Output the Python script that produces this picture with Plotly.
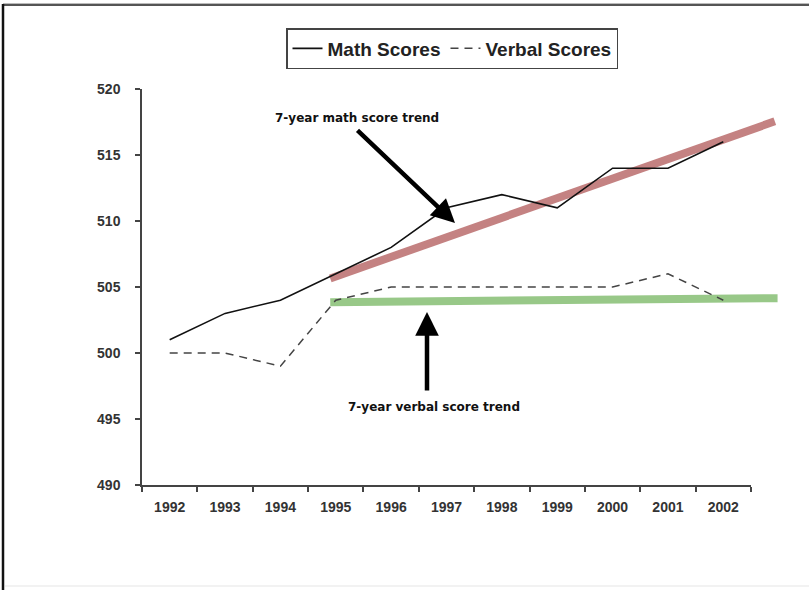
import plotly.graph_objects as go

years = ["1992", "1993", "1994", "1995", "1996", "1997", "1998", "1999", "2000", "2001", "2002"]
math_scores = [501, 503, 504, 506, 508, 511, 512, 511, 514, 514, 516]
verbal_scores = [500, 500, 499, 504, 505, 505, 505, 505, 505, 506, 504]

# trend lines: positions in category index units (0 = 1992)
math_trend_x = [2.9, 10.93]
math_trend_y = [505.65, 517.55]
verbal_trend_x = [2.9, 10.98]
verbal_trend_y = [503.85, 504.15]

y_range = [490, 520]

W, H = 809, 590
ML, MR, MT, MB = 142, 20, 89, 105
plot_w = W - ML - MR
main_frac = 609 / plot_w
ext_max = -0.5 + len(years) / main_frac

fig = go.Figure()

# trend lines (drawn on extended numeric axis, underneath)
fig.add_trace(go.Scatter(x=math_trend_x, y=math_trend_y, mode="lines",
                         line=dict(color="#c48282", width=8), showlegend=False,
                         hoverinfo="skip", xaxis="x", yaxis="y"))
fig.add_trace(go.Scatter(x=verbal_trend_x, y=verbal_trend_y, mode="lines",
                         line=dict(color="#98c888", width=8), showlegend=False,
                         hoverinfo="skip", xaxis="x", yaxis="y"))

# data series on category axis
fig.add_trace(go.Scatter(x=years, y=math_scores, mode="lines", name="Math Scores",
                         line=dict(color="#111111", width=1.6), xaxis="x2", yaxis="y2"))
fig.add_trace(go.Scatter(x=years, y=verbal_scores, mode="lines", name="Verbal Scores",
                         line=dict(color="#444444", width=1.5, dash="8px,6px"),
                         xaxis="x2", yaxis="y2"))

tick_font = dict(family="Liberation Sans, Arial", size=14, color="#333333", weight="bold")

fig.update_layout(
    width=W, height=H,
    margin=dict(l=ML, r=MR, t=MT, b=MB),
    paper_bgcolor="white", plot_bgcolor="rgba(0,0,0,0)",
    xaxis=dict(domain=[0, 1], range=[-0.5, ext_max], visible=False, fixedrange=True),
    yaxis=dict(domain=[0, 1], range=y_range, visible=False, anchor="x"),
    xaxis2=dict(domain=[0, main_frac], type="category", categoryarray=years,
                range=[-0.5, 10.5], anchor="y2", tickson="boundaries",
                ticks="outside", ticklen=5, tickcolor="#444444", tickwidth=1.5,
                showline=True, linecolor="#444444", linewidth=1.5,
                showgrid=False, zeroline=False, tickfont=tick_font,
                ticklabelstandoff=8),
    yaxis2=dict(domain=[0, 1], range=y_range, anchor="x2", dtick=5,
                ticks="outside", ticklen=5, tickcolor="#444444", tickwidth=1.5,
                showline=True, linecolor="#444444", linewidth=1.5,
                showgrid=False, zeroline=False, tickfont=tick_font,
                ticklabelstandoff=12),
    legend=dict(orientation="h", x=(452 - ML) / plot_w, xanchor="center",
                y=(H - MB - 28) / (H - MT - MB), yanchor="top",
                bordercolor="#444444", borderwidth=1.5, bgcolor="white",
                font=dict(family="Liberation Sans, Arial", size=19, color="#222222", weight="bold"),
                itemwidth=30, tracegroupgap=0),
    showlegend=True,
)

ann_font = dict(family="DejaVu Sans", size=12, color="#111111", weight="bold")
kx = plot_w / (ext_max + 0.5)
def px_to_x(px):
    return (px - ML) / kx - 0.5
def py_to_y(py):
    return y_range[1] - (py - MT) * (y_range[1] - y_range[0]) / (H - MT - MB)

fig.add_annotation(x=px_to_x(455), y=py_to_y(223), xref="x", yref="y",
                   ax=px_to_x(356), ay=py_to_y(129), axref="x", ayref="y",
                   text="", showarrow=True, arrowhead=2, arrowsize=1.05,
                   arrowwidth=4.5, arrowcolor="#000000")
fig.add_annotation(x=px_to_x(427), y=py_to_y(312), xref="x", yref="y",
                   ax=px_to_x(427), ay=py_to_y(392), axref="x", ayref="y",
                   text="", showarrow=True, arrowhead=2, arrowsize=1.05,
                   arrowwidth=4.5, arrowcolor="#000000")
fig.add_annotation(x=px_to_x(357), y=py_to_y(118), xref="x", yref="y",
                   text="7-year math score trend", showarrow=False, font=ann_font)
fig.add_annotation(x=px_to_x(434), y=py_to_y(407), xref="x", yref="y",
                   text="7-year verbal score trend", showarrow=False, font=ann_font)

# page frame
ph = H - MT - MB
def fx(px):
    return (px - ML) / plot_w
def fy(py):
    return (H - MB - py) / ph
fig.add_shape(type="line", xref="paper", yref="paper", x0=fx(3), x1=fx(809), y0=fy(3.5), y1=fy(3.5),
              line=dict(color="#bbbbbb", width=1))
fig.add_shape(type="line", xref="paper", yref="paper", x0=fx(3), x1=fx(809), y0=fy(5), y1=fy(5),
              line=dict(color="#555555", width=2))
fig.add_shape(type="line", xref="paper", yref="paper", x0=fx(3), x1=fx(3), y0=fy(4), y1=fy(590),
              line=dict(color="#111111", width=2.5))
fig.add_shape(type="line", xref="paper", yref="paper", x0=fx(5), x1=fx(809), y0=fy(586), y1=fy(586),
              line=dict(color="#eeeeee", width=1.5))

fig.write_html("out.html", config={"displayModeBar": False},
               post_script="document.body.style.margin='0';document.body.style.padding='0';")
